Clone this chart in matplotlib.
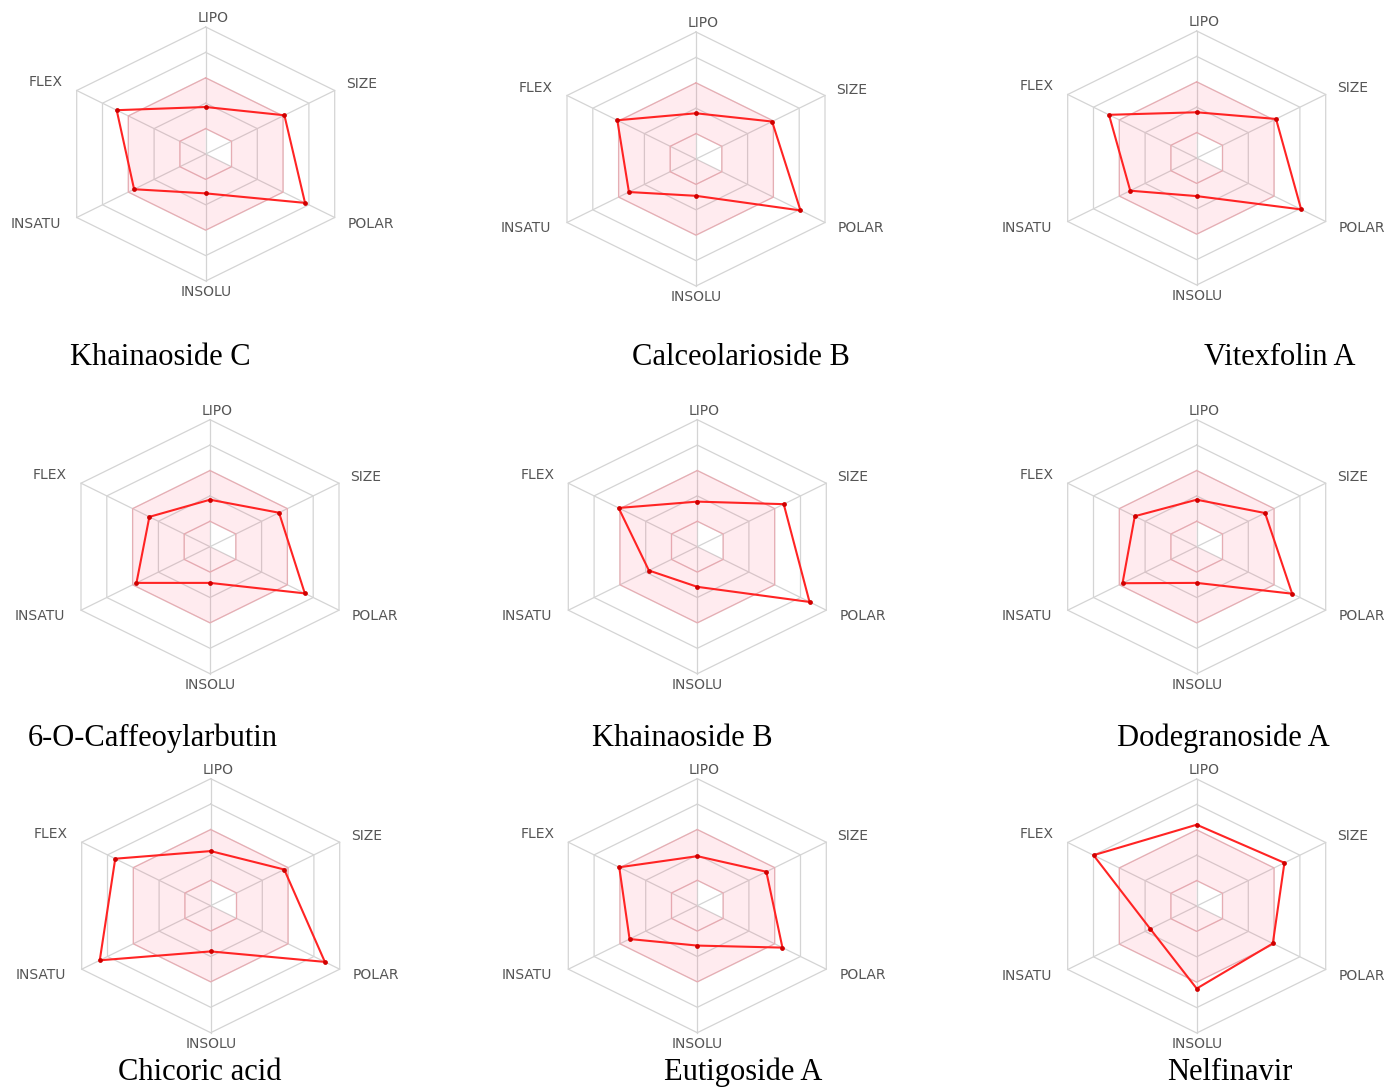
import numpy as np
import matplotlib.pyplot as plt
from matplotlib.path import Path
from matplotlib.patches import PathPatch

# bioavailability radar: six properties, values as fraction of the outer ring
properties = ["LIPO", "SIZE", "POLAR", "INSOLU", "INSATU", "FLEX"]
angles_deg = [90, 30, -30, -90, -150, 150]

compounds = ["Khainaoside C", "Calceolarioside B", "Vitexfolin A",
             "6-O-Caffeoylarbutin", "Khainaoside B", "Dodegranoside A",
             "Chicoric acid", "Eutigoside A", "Nelfinavir"]

khainaoside_c = [0.37, 0.61, 0.77, 0.31, 0.555, 0.69]
calceolarioside_b = [0.36, 0.59, 0.81, 0.29, 0.52, 0.61]
vitexfolin_a = [0.36, 0.615, 0.81, 0.30, 0.515, 0.68]
caffeoylarbutin = [0.37, 0.535, 0.735, 0.285, 0.57, 0.47]
khainaoside_b = [0.355, 0.67, 0.87, 0.316, 0.375, 0.61]
dodegranoside_a = [0.37, 0.53, 0.74, 0.285, 0.575, 0.48]
chicoric_acid = [0.43, 0.57, 0.885, 0.36, 0.86, 0.74]
eutigoside_a = [0.39, 0.535, 0.66, 0.314, 0.525, 0.605]
nelfinavir = [0.64, 0.68, 0.59, 0.65, 0.36, 0.80]

values = [khainaoside_c, calceolarioside_b, vitexfolin_a,
          caffeoylarbutin, khainaoside_b, dodegranoside_a,
          chicoric_acid, eutigoside_a, nelfinavir]

grid_levels = [0.2, 0.4, 0.6, 0.8, 1.0]
optimal_inner, optimal_outer = 0.2, 0.6

# layout (pixels)
W, H = 1386, 1088
centers = [(205.7, 154), (696, 159), (1196.7, 158),
           (210, 546.7), (697.3, 546.7), (1196.7, 546.7),
           (210.7, 905.7), (697.3, 905.7), (1196.7, 906)]
title_pos = [(160, 365), (741, 365), (1280, 365),
             (153, 746), (682, 746), (1223, 746),
             (200, 1080), (743, 1080), (1230, 1080)]
RX = 129 / np.cos(np.deg2rad(30))   # horizontal stretch of original image
RY = 127

label_style = {
    "LIPO": ((7, 9), "center"),
    "SIZE": ((11, 6), "left"),
    "POLAR": ((13, -6), "left"),
    "INSOLU": ((0, -11), "center"),
    "INSATU": ((-16, -6), "right"),
    "FLEX": ((-14, 8), "right"),
}

ang = np.deg2rad(angles_deg)


def ring(r):
    r = np.broadcast_to(np.asarray(r, dtype=float), ang.shape)
    x = np.cos(ang) * r
    y = np.sin(ang) * r
    return np.append(x, x[0]), np.append(y, y[0])


fig = plt.figure(figsize=(W / 100, H / 100), dpi=100)

for name, vals, (cx, cy), (tx, ty) in zip(compounds, values, centers, title_pos):
    ax = fig.add_axes([(cx - 200) / W, 1 - (cy + 150) / H, 400 / W, 300 / H])
    ax.set_xlim(-200 / RX, 200 / RX)
    ax.set_ylim(-150 / RY, 150 / RY)
    ax.axis("off")

    # grid
    for lev in grid_levels:
        gx, gy = ring(lev)
        ax.plot(gx, gy, color="#d4d4d4", lw=0.9, zorder=1)
    for a in ang:
        ax.plot([0, np.cos(a)], [0, np.sin(a)], color="#d4d4d4", lw=0.9, zorder=1)

    # optimal (pink) zone, with the half-hole of the original
    ox, oy = ring(optimal_outer)
    hole = [(0, 0)] + [(np.cos(a) * optimal_inner, np.sin(a) * optimal_inner) for a in ang[:3]]
    hole = hole[::-1]
    verts = list(zip(ox[:-1], oy[:-1])) + [(0, 0)] + hole + [(0, 0)]
    codes = ([Path.MOVETO] + [Path.LINETO] * 5 + [Path.CLOSEPOLY]
             + [Path.MOVETO] + [Path.LINETO] * 3 + [Path.CLOSEPOLY])
    ax.add_patch(PathPatch(Path(verts, codes), facecolor=(1, 0.25, 0.4, 0.1),
                           edgecolor="none", zorder=2))
    for lev in (optimal_inner, optimal_outer):
        px, py = ring(lev)
        ax.plot(px, py, color=(1, 0.5, 0.55, 0.4), lw=0.9, zorder=2)

    # compound profile
    vx, vy = ring(vals)
    ax.plot(vx, vy, color="#ff2424", lw=1.5, zorder=3)
    ax.scatter(vx[:-1], vy[:-1], s=12, color="#d00000", zorder=4, linewidths=0)

    for p, a in zip(properties, ang):
        off, ha = label_style[p]
        ax.annotate(p, (np.cos(a), np.sin(a)), xytext=off, textcoords="offset pixels",
                    ha=ha, va="center", fontsize=10, color="#555555")

    fig.text(tx / W, 1 - ty / H, name, ha="center", va="baseline",
             fontsize=22, family="Liberation Serif")

fig.savefig("out.png", dpi=100)
